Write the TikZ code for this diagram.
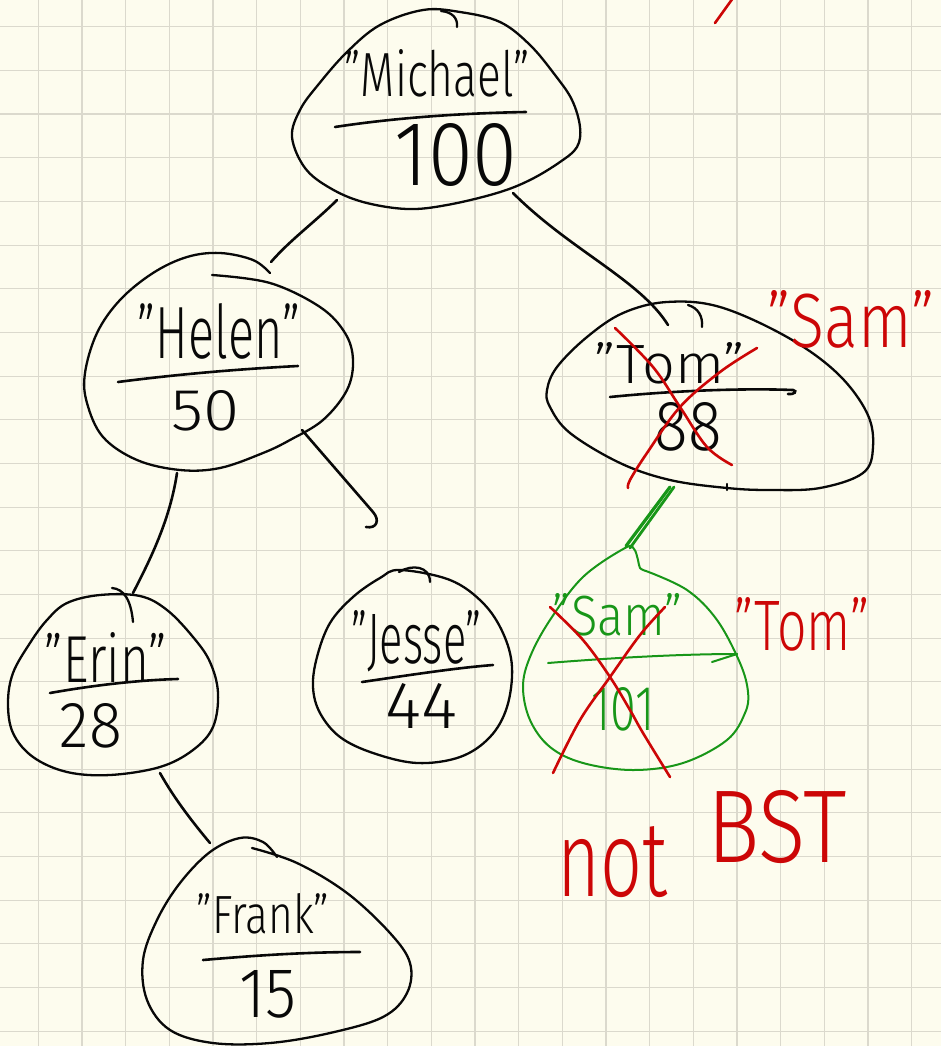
\documentclass[tikz,border=0pt]{standalone}
\usepackage{fontspec}
\setmainfont{Fira Sans Light}
\usepackage{graphicx}

\definecolor{paper}{RGB}{253,252,238}
\definecolor{gridline}{RGB}{219,217,205}
\definecolor{ink}{RGB}{8,8,8}
\definecolor{redink}{RGB}{204,6,6}
\definecolor{greenink}{RGB}{24,150,24}

% handwritten-size label: width, height (above baseline), text
\newcommand{\hand}[3]{\resizebox{#1pt}{#2pt}{#3}}

\tikzset{
  outline/.style={draw=ink, line width=2.3pt, line cap=round, line join=round},
  edge/.style={draw=ink, line width=2.6pt, line cap=round, line join=round},
  rulemark/.style={draw=ink, line width=2.6pt, line cap=round},
  redstroke/.style={draw=redink, line width=2.6pt, line cap=round, line join=round},
  greenstroke/.style={draw=greenink, line width=2pt, line cap=round, line join=round},
  lbl/.style={inner sep=0pt, anchor=base, text=ink},
  redlbl/.style={inner sep=0pt, anchor=base, text=redink},
  greenlbl/.style={inner sep=0pt, anchor=base, text=greenink},
}

\begin{document}
\begin{tikzpicture}[x=1pt,y=-1pt]
  % paper and grid
  \fill[paper] (0,0) rectangle (941,1046);
  \useasboundingbox (0,0) rectangle (941,1046);
  \foreach \k in {0,...,21} {
    \draw[gridline, line width=1.1pt] (38.3+43.67*\k,0) -- (38.3+43.67*\k,1046);
  }
  \foreach \k in {0,...,23} {
    \draw[gridline, line width=1.1pt] (0,26.7+43.67*\k) -- (941,26.7+43.67*\k);
  }

  % ---------- node outlines ----------
  % Michael
  \draw[outline] plot[smooth cycle, tension=0.6] coordinates {
    (292,137) (300,110) (318,85) (347,52) (380,25) (423,10) (460,12) (500,22)
    (530,45) (555,75) (572,100) (580,127) (577,147) (560,162) (530,180)
    (497,193) (447,205) (407,209) (363,202) (330,188) (305,168)};
  \draw[outline] (441,11) .. controls (452,12) and (458,18) .. (457,27);

  % Helen
  \draw[outline] plot[smooth, tension=0.6] coordinates {
    (212,275) (270,283) (320,307) (345,333) (353,360) (347,390) (323,420)
    (290,440) (263,453) (220,468) (180,470) (137,460) (103,437) (87,403)
    (85,373) (97,333) (120,300) (153,273) (187,257) (220,253) (253,260) (270,273)};

  % Erin
  \draw[outline] plot[smooth cycle, tension=0.6] coordinates {
    (67,603) (100,595) (140,596) (167,610) (193,637) (210,662) (218,693)
    (213,727) (193,750) (160,767) (110,775) (67,772) (33,757) (13,733)
    (8,703) (13,673) (30,643) (47,620)};
  \draw[outline] (112,588) .. controls (124,589) and (131,600) .. (133,622);

  % Jesse
  \draw[outline] plot[smooth cycle, tension=0.6] coordinates {
    (400,570) (450,580) (483,603) (503,633) (512,667) (507,707) (490,737)
    (460,757) (417,763) (373,753) (340,737) (320,713) (313,687) (317,657)
    (330,623) (353,597) (380,578)};
  \draw[outline] (399,572) .. controls (412,564) and (430,566) .. (430,582);

  % Frank
  \draw[outline] plot[smooth, tension=0.6] coordinates {
    (252,848) (297,863) (347,893) (390,933) (410,963) (407,993) (383,1017)
    (330,1033) (270,1043) (213,1043) (170,1030) (147,1000) (143,960)
    (157,920) (180,883) (210,852) (240,838) (263,842) (277,857)};

  % Tom
  \draw[outline] plot[smooth cycle, tension=0.6] coordinates {
    (667,302) (720,307) (787,337) (837,373) (867,413) (873,447) (863,473)
    (820,488) (770,490) (727,488) (670,480) (620,463) (570,433) (550,407)
    (547,390) (557,367) (587,337) (623,313)};
  \draw[outline] (688,305) .. controls (698,308) and (703,316) .. (702,327);
  \draw[outline] (727,484) -- (727,490);

  % Sam (new node)
  \draw[greenstroke] plot[smooth, tension=0.6] coordinates {
    (646,571) (687,590) (717,620) (740,663) (748,692) (745,713) (727,740)
    (683,763) (633,770) (583,763) (550,747) (530,720) (523,687) (530,657)
    (550,620) (583,577) (625,548) (634,549) (638,560) (640,568) (646,571)};

  % ---------- labels ----------
  \node[lbl] (michaelkey) at (437,97)  {\hand{185}{47}{"Michael"}};
  \node[lbl] (michaelval) at (456,185) {\hand{123}{62}{100}};
  \node[lbl] (helenkey)   at (219,358) {\hand{162}{55}{"Helen"}};
  \node[lbl] (helenval)   at (206,430) {\hand{68}{40}{50}};
  \node[lbl] (erinkey)    at (106,682) {\hand{122}{50}{"Erin"}};
  \node[lbl] (erinval)    at (91,747)  {\hand{62}{44}{28}};
  \node[lbl] (jessekey)   at (417,663) {\hand{130}{53}{"Jesse"}};
  \node[lbl] (jesseval)   at (421,728) {\hand{72}{45}{44}};
  \node[lbl] (frankkey)   at (263,933) {\hand{133}{40}{"Frank"}};
  \node[lbl] (frankval)   at (268,1017){\hand{57}{47}{15}};
  \node[lbl] (tomkey)     at (670,383) {\hand{150}{41}{"Tom"}};
  \node[lbl] (tomval)     at (688,450) {\hand{67}{48}{88}};
  \node[greenlbl] (samkey) at (618,635) {\hand{130}{42}{"Sam"}};
  \node[greenlbl] (samval) at (623,730) {\hand{63}{43}{101}};
  \node[redlbl] (newkey)  at (851,347) {\hand{167}{57}{"Sam"}};
  \node[redlbl] (swapkey) at (802,650) {\hand{135}{53}{"Tom"}};
  \node[redlbl] (notword) at (613,896) {\hand{110}{70}{not}};
  \node[redlbl] (bstword) at (777,862) {\hand{139}{72}{BST}};

  % key / value dividers
  \draw[rulemark] (335,127) .. controls (400,117) and (470,113) .. (526,112);
  \draw[rulemark] (118,382) .. controls (180,374) and (240,369) .. (298,366);
  \draw[rulemark] (50,693) .. controls (95,685) and (140,680) .. (178,679);
  \draw[rulemark] (362,682) .. controls (410,675) and (455,668) .. (493,665);
  \draw[rulemark] (203,960) .. controls (260,955) and (310,952) .. (360,952);
  \draw[rulemark] (610,397) .. controls (670,391) and (740,388) .. (793,390)
                  .. controls (798,391) and (794,395) .. (788,394);
  \draw[greenstroke] (548,663) .. controls (610,658) and (680,654) .. (737,654);
  \draw[greenstroke] (712,662) -- (737,654);

  % ---------- connectors ----------
  \coordinate (michaelSW) at (337,200);
  \coordinate (michaelSE) at (513,193);
  \coordinate (helenN)    at (271,262);
  \coordinate (helenSE)   at (302,430);
  \coordinate (helenSW)   at (177,473);
  \coordinate (jesseN)    at (366,527);
  \coordinate (erinN)     at (133,593);
  \coordinate (erinS)     at (160,773);
  \coordinate (frankN)    at (210,843);
  \coordinate (tomN)      at (668,325);
  \coordinate (tomS)      at (670,487);
  \coordinate (samN)      at (626,546);

  \draw[edge] (michaelSW) .. controls (315,222) and (290,240) .. (helenN);
  \draw[edge] (michaelSE) .. controls (570,250) and (640,280) .. (tomN);
  \draw[edge] (helenSE) -- (373,512) .. controls (380,520) and (377,529) .. (jesseN);
  \draw[edge] (helenSW) .. controls (170,520) and (150,560) .. (erinN);
  \draw[edge] (erinS) .. controls (175,800) and (195,825) .. (frankN);
  \draw[greenstroke, line width=3.2pt] (tomS) -- (samN);
  \draw[greenstroke, line width=2.8pt] ([xshift=4pt]tomS) -- ([xshift=4pt,yshift=-2pt]samN);

  % ---------- corrections ----------
  \draw[redstroke] plot[smooth, tension=0.6] coordinates {
    (615,328) (653,367) (680,407) (707,447) (732,465)};
  \draw[redstroke] plot[smooth, tension=0.6] coordinates {
    (757,348) (720,372) (680,407) (647,453) (630,480) (628,488)};
  \draw[redstroke] plot[smooth, tension=0.6] coordinates {
    (550,607) (583,640) (610,677) (630,710) (643,733) (670,777)};
  \draw[redstroke] plot[smooth, tension=0.6] coordinates {
    (665,607) (640,635) (610,677) (580,720) (553,773)};
  \draw[redstroke] (733,-2) -- (715,23);
\end{tikzpicture}
\end{document}
